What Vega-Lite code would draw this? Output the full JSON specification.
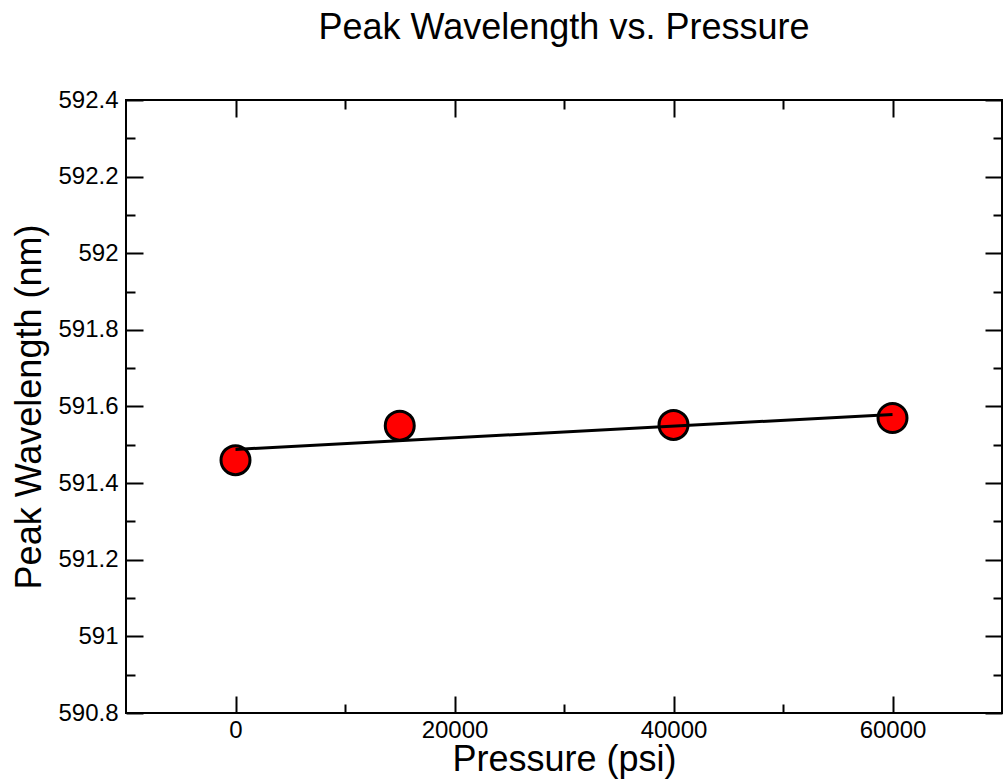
{
  "$schema": "https://vega.github.io/schema/vega-lite/v6.json",
  "width": 876,
  "height": 613,
  "autosize": "none",
  "padding": {"left": 126, "top": 100, "right": 1, "bottom": 69},
  "background": "white",
  "config": {
    "font": "Liberation Sans",
    "view": {"stroke": "black", "strokeWidth": 2},
    "axis": {
      "domain": false,
      "grid": false,
      "tickColor": "black",
      "tickWidth": 2,
      "labelColor": "black",
      "labelFontSize": 24,
      "labelFont": "Liberation Sans",
      "titleColor": "black",
      "titleFont": "Liberation Sans",
      "titleFontSize": 36,
      "titleFontWeight": "normal"
    }
  },
  "title": {
    "text": "Peak Wavelength vs. Pressure",
    "fontSize": 36,
    "fontWeight": "normal",
    "font": "Liberation Sans",
    "color": "black",
    "anchor": "middle",
    "baseline": "alphabetic",
    "offset": 13
  },
  "datasets": {
    "points": [
      {"pressure": 0, "wavelength": 591.46},
      {"pressure": 15000, "wavelength": 591.55},
      {"pressure": 40000, "wavelength": 591.552},
      {"pressure": 60000, "wavelength": 591.57}
    ],
    "fit": [
      {"pressure": 0, "wavelength": 591.488},
      {"pressure": 60000, "wavelength": 591.579}
    ]
  },
  "layer": [
    {
      "data": {"name": "points"},
      "mark": {"type": "circle", "color": "red", "opacity": 1, "stroke": "black", "strokeWidth": 3, "size": 840},
      "encoding": {
        "x": {
          "field": "pressure", "type": "quantitative",
          "scale": {"domain": [-10000, 70000], "nice": false, "zero": false},
          "axis": {
            "orient": "bottom",
            "title": "Pressure (psi)",
            "values": [0, 10000, 20000, 30000, 40000, 50000, 60000],
            "tickSize": {"condition": {"test": "datum.value % 20000 === 0", "value": -17}, "value": -9},
            "labelExpr": "datum.value % 20000 === 0 ? '' + datum.value : ''",
            "labelPadding": 22,
            "titlePadding": 0
          }
        },
        "y": {
          "field": "wavelength", "type": "quantitative",
          "scale": {"domain": [590.8, 592.4], "nice": false, "zero": false},
          "axis": {
            "orient": "left",
            "title": "Peak Wavelength (nm)",
            "values": [590.8, 590.9, 591.0, 591.1, 591.2, 591.3, 591.4, 591.5, 591.6, 591.7, 591.8, 591.9, 592.0, 592.1, 592.2, 592.3, 592.4],
            "tickSize": {"condition": {"test": "round(datum.value * 10) % 2 === 0", "value": -17}, "value": -9},
            "labelExpr": "round(datum.value * 10) % 2 === 0 ? '' + round(datum.value * 10) / 10 : ''",
            "labelPadding": 25,
            "titlePadding": 9
          }
        }
      }
    },
    {
      "data": {"name": "fit"},
      "mark": {"type": "line", "color": "black", "strokeWidth": 3},
      "encoding": {
        "x": {
          "field": "pressure", "type": "quantitative",
          "scale": {"domain": [-10000, 70000], "nice": false, "zero": false},
          "axis": {
            "orient": "top",
            "title": null,
            "labels": false,
            "values": [0, 10000, 20000, 30000, 40000, 50000, 60000],
            "tickSize": {"condition": {"test": "datum.value % 20000 === 0", "value": -17}, "value": -9}
          }
        },
        "y": {
          "field": "wavelength", "type": "quantitative",
          "scale": {"domain": [590.8, 592.4], "nice": false, "zero": false},
          "axis": {
            "orient": "right",
            "title": null,
            "labels": false,
            "values": [590.8, 590.9, 591.0, 591.1, 591.2, 591.3, 591.4, 591.5, 591.6, 591.7, 591.8, 591.9, 592.0, 592.1, 592.2, 592.3, 592.4],
            "tickSize": {"condition": {"test": "round(datum.value * 10) % 2 === 0", "value": -17}, "value": -9}
          }
        }
      }
    }
  ],
  "resolve": {"axis": {"x": "independent", "y": "independent"}}
}
